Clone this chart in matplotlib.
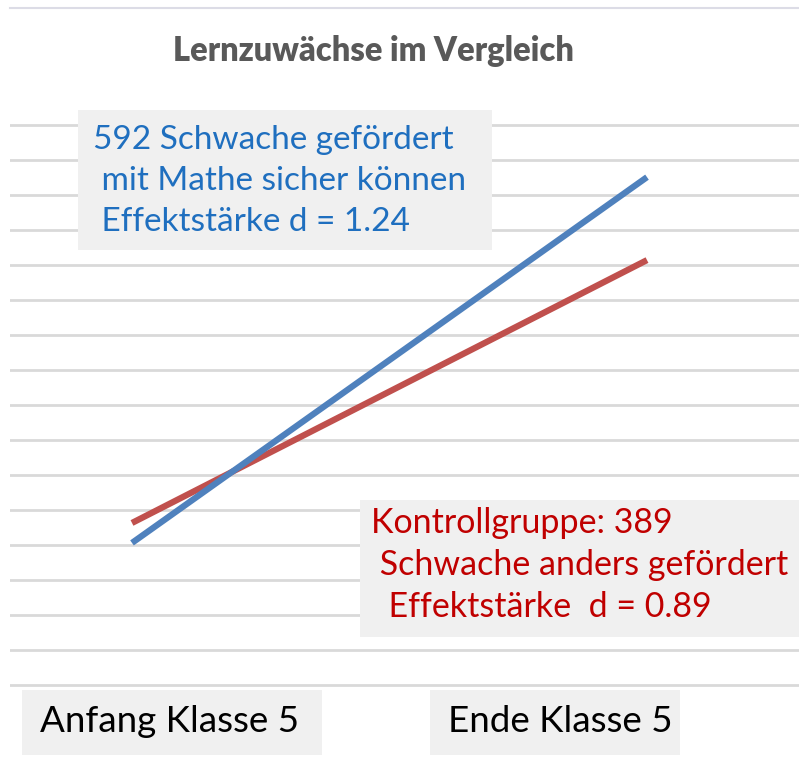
import matplotlib
matplotlib.use("Agg")
import matplotlib.pyplot as plt
from matplotlib.patches import Rectangle

# data (arbitrary score units, one gridline = 1 unit)
zeitpunkte = ["Anfang Klasse 5", "Ende Klasse 5"]
foerderung = [4.06, 14.51]     # Schwache gefördert mit "Mathe sicher können"
kontrolle = [4.63, 12.14]      # Kontrollgruppe
gitter = list(range(0, 17))

titel = "Lernzuwächse im Vergleich"
text_blau = ["592 Schwache gefördert", " mit Mathe sicher können", " Effektstärke d = 1.24"]
text_rot = ["Kontrollgruppe: 389", " Schwache anders gefördert", "  Effektstärke  d = 0.89"]

W, H = 799, 758
fig = plt.figure(figsize=(W / 100, H / 100), dpi=100)

def px(x, y):
    return x / W, 1 - y / H

# axes spans pixel x 10..799, y 100..700
ax = fig.add_axes([10 / W, 1 - 700 / H, 789 / W, 600 / H])
ax.set_xlim(-122 / 515, 1 + 152 / 515)
ax.set_ylim((685 - 700) / 35, (685 - 100) / 35)
for g in gitter:
    ax.axhline(g, color="#d9d9d9", lw=2, zorder=1)
x = [0, 1]
ax.plot(x, kontrolle, color="#c0504d", lw=4.5, solid_capstyle="butt", zorder=3)
ax.plot(x, foerderung, color="#4f81bd", lw=4.5, solid_capstyle="butt", zorder=3)
ax.axis("off")

# thin top border line
fig.add_artist(plt.Line2D([10 / W, 1], [1 - 8 / H, 1 - 8 / H], color="#dcdce6", lw=1.5))

fig.text(*px(373, 51), titel, ha="center", va="center", fontsize=23.5,
         color="#595959", fontweight="heavy", family="Lato")

def kasten(x0, y0, x1, y1):
    fig.add_artist(Rectangle(px(x0, y1), (x1 - x0) / W, (y1 - y0) / H,
                             transform=fig.transFigure, facecolor="#f0f0f0",
                             edgecolor="none", zorder=2))

kasten(78, 110, 492, 250)
for i, t in enumerate(text_blau):
    fig.text(*px(93, 140 + 41 * i), t, ha="left", va="center", fontsize=24,
             color="#1f6fbf", family="Lato", zorder=3)

kasten(360, 500, 799, 637)
for i, t in enumerate(text_rot):
    fig.text(*px(371, 523 + 42 * i), t, ha="left", va="center", fontsize=24.5,
             color="#c00000", family="Lato", zorder=3)

kasten(22, 690, 322, 755)
kasten(430, 690, 680, 755)
for xc, t in zip([170, 560], zeitpunkte):
    fig.text(*px(xc, 722), t, ha="center", va="center", fontsize=26.5,
             color="black", family="Lato", zorder=3)

fig.savefig("out.png", dpi=100)
